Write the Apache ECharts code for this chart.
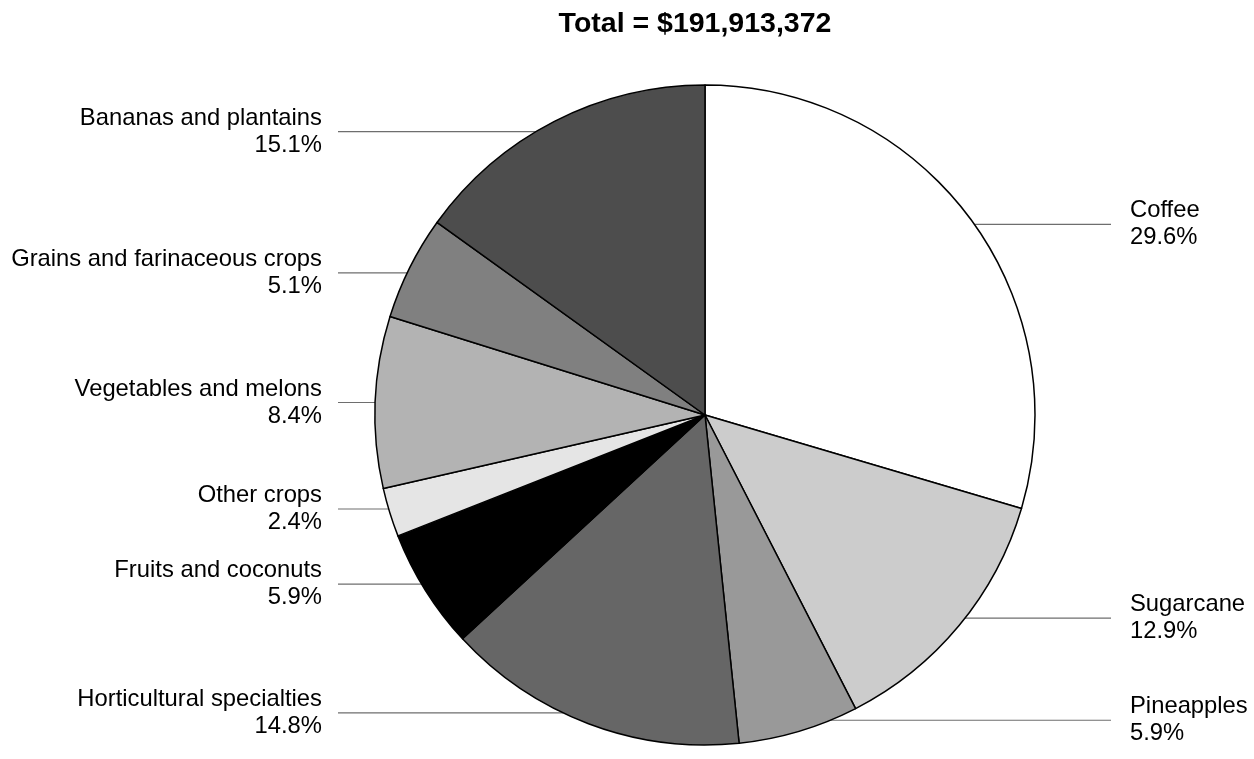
<!DOCTYPE html>
<html><head><meta charset="utf-8">
<script src="https://cdn.jsdelivr.net/npm/echarts@6/dist/echarts.min.js"></script>
<style>html,body{margin:0;padding:0;background:#fff}#c{width:1254px;height:759px}</style>
</head><body><div id="c"></div>
<script>
const categories = ['Coffee','Sugarcane','Pineapples','Horticultural specialties','Fruits and coconuts','Other crops','Vegetables and melons','Grains and farinaceous crops','Bananas and plantains'];
const shares = [29.6, 12.9, 5.9, 14.8, 5.9, 2.4, 8.4, 5.1, 15.1];
const sliceColors = ['#ffffff','#cccccc','#999999','#666666','#000000','#e5e5e5','#b3b3b3','#808080','#4d4d4d'];
const titleText = 'Total = $191,913,372';

const CX = 705, CY = 415, R = 330;
const FONT = '"Liberation Sans", Arial, Helvetica, sans-serif';

const chart = echarts.init(document.getElementById('c'), null, {renderer: 'canvas'});
chart.setOption({
  animation: false,
  backgroundColor: '#ffffff',
  title: {
    text: titleText,
    left: 690, top: 5, textAlign: 'center',
    textStyle: {fontFamily: FONT, fontWeight: 'bold', fontSize: 28.5, color: '#000'}
  },
  series: [{
    type: 'pie',
    center: [CX, CY],
    radius: R,
    startAngle: 90,
    clockwise: true,
    minShowLabelAngle: 0,
    avoidLabelOverlap: true,
    data: categories.map((c, i) => ({name: c, value: shares[i], itemStyle: {color: sliceColors[i]}})),
    itemStyle: {borderColor: '#000', borderWidth: 1.5},
    label: {
      show: true, position: 'outside',
      formatter: p => p.name + '\n' + p.value.toFixed(1) + '%',
      fontFamily: FONT, fontSize: 23.8, lineHeight: 27, color: '#000'
    },
    labelLine: {show: true, length: 0, length2: 10, smooth: false, lineStyle: {color: '#6e6e6e', width: 1.2}},
    emphasis: {disabled: true},
    labelLayout: function (params) {
      const pts = params.labelLinePoints;
      if (!pts) return {};
      const y0 = pts[0][1];
      const isRight = pts[0][0] >= CX;
      const y = CY + (y0 - CY) * 0.965;
      const dx = Math.sqrt(Math.max(0, R * R - (y - CY) * (y - CY)));
      if (isRight) {
        const ex = CX + dx, lx = CX + R + 95;
        return {x: lx, y: y, align: 'left', verticalAlign: 'middle',
          labelLinePoints: [[ex, y], [ex, y], [lx - 19, y]]};
      } else {
        const ex = CX - dx, lx = CX - R - 53;
        return {x: lx, y: y, align: 'right', verticalAlign: 'middle',
          labelLinePoints: [[ex, y], [ex, y], [lx + 16, y]]};
      }
    }
  }]
});
</script></body></html>
